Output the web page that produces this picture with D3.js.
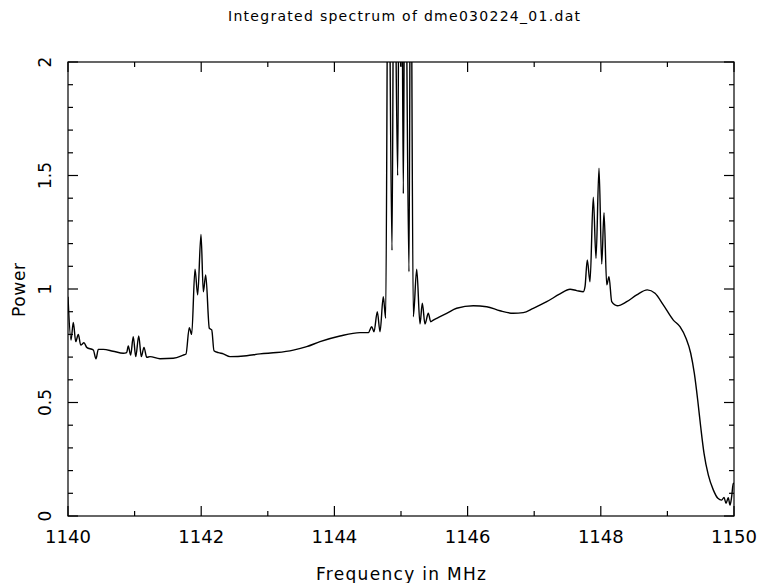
<!DOCTYPE html>
<html>
<head>
<meta charset="utf-8">
<script src="https://cdn.jsdelivr.net/npm/d3@7"></script>
<style>
  body { margin: 0; background: #fff; }
  text { font-family: 'DejaVu Sans', sans-serif; fill: #000; }
</style>
</head>
<body>
<div id="chart"></div>
<script>
// spectrum (MHz, power)
var freqs = [
  1140.000, 1140.045, 1140.080, 1140.116, 1140.155, 1140.191, 1140.240, 1140.281,
  1140.380, 1140.420, 1140.455, 1140.530, 1140.676, 1140.830, 1140.881, 1140.905,
  1140.941, 1140.980, 1141.017, 1141.062, 1141.101, 1141.141, 1141.182, 1141.231,
  1141.381, 1141.581, 1141.731, 1141.772, 1141.821, 1141.857, 1141.907, 1141.947,
  1141.997, 1142.032, 1142.068, 1142.122, 1142.158, 1142.192, 1142.257, 1142.332,
  1142.432, 1142.683, 1142.883, 1143.134, 1143.383, 1143.584, 1143.784, 1144.084,
  1144.384, 1144.509, 1144.560, 1144.595, 1144.644, 1144.685, 1144.734, 1144.770,
  1144.809, 1144.865, 1144.895, 1144.950, 1144.977, 1144.995, 1145.008, 1145.035,
  1145.060, 1145.120, 1145.145, 1145.185, 1145.236, 1145.285, 1145.320, 1145.360,
  1145.410, 1145.446, 1145.485, 1145.586, 1145.686, 1145.836, 1146.086, 1146.287,
  1146.486, 1146.686, 1146.836, 1146.986, 1147.188, 1147.387, 1147.538, 1147.638,
  1147.737, 1147.763, 1147.797, 1147.838, 1147.887, 1147.928, 1147.973, 1148.014,
  1148.048, 1148.089, 1148.123, 1148.164, 1148.248, 1148.389, 1148.539, 1148.698,
  1148.814, 1148.938, 1149.089, 1149.189, 1149.279, 1149.350, 1149.404, 1149.455,
  1149.500, 1149.550, 1149.614, 1149.689, 1149.758, 1149.815, 1149.850, 1149.880,
  1149.914, 1149.940, 1149.965, 1149.989, 1150.000
];
var power = [
  0.966, 0.775, 0.853, 0.768, 0.800, 0.753, 0.763, 0.743,
  0.731, 0.692, 0.734, 0.734, 0.726, 0.717, 0.720, 0.749,
  0.709, 0.790, 0.702, 0.793, 0.702, 0.743, 0.699, 0.702,
  0.693, 0.695, 0.709, 0.714, 0.830, 0.800, 1.087, 0.974,
  1.240, 0.988, 1.062, 0.827, 0.820, 0.728, 0.720, 0.714,
  0.702, 0.706, 0.714, 0.720, 0.731, 0.746, 0.768, 0.793,
  0.808, 0.808, 0.834, 0.812, 0.900, 0.812, 0.966, 0.871,
  2.800, 1.170, 2.800, 1.500, 2.800, 1.980, 2.800, 1.420,
  2.800, 1.076, 2.800, 0.878, 1.087, 0.846, 0.937, 0.846,
  0.893, 0.856, 0.863, 0.878, 0.893, 0.915, 0.926, 0.922,
  0.904, 0.893, 0.896, 0.915, 0.944, 0.978, 0.999, 0.993,
  0.988, 1.010, 1.128, 1.032, 1.404, 1.135, 1.532, 1.110,
  1.336, 1.018, 1.054, 0.944, 0.926, 0.944, 0.974, 0.996,
  0.981, 0.930, 0.863, 0.834, 0.783, 0.717, 0.629, 0.511,
  0.393, 0.276, 0.181, 0.115, 0.078, 0.070, 0.082, 0.056,
  0.081, 0.048, 0.085, 0.144, 0.140
];
var xMajor = [1140, 1142, 1144, 1146, 1148, 1150];
var yMajor = [0, 0.5, 1, 1.5, 2];
var yLabels = ['0', '0.5', '1', '1.5', '2'];

var width = 759, height = 583;
var plotL = 68, plotR = 734, plotT = 62, plotB = 516;

var svg = d3.select('#chart').append('svg')
  .attr('width', width)
  .attr('height', height);

var x = d3.scaleLinear().domain([1140, 1150]).range([plotL, plotR]);
var y = d3.scaleLinear().domain([0, 2]).range([plotB, plotT]);

svg.append('clipPath')
  .attr('id', 'plotclip')
  .append('rect')
  .attr('x', plotL)
  .attr('y', plotT)
  .attr('width', plotR - plotL)
  .attr('height', plotB - plotT);

// frame
svg.append('rect')
  .attr('x', plotL)
  .attr('y', plotT)
  .attr('width', plotR - plotL)
  .attr('height', plotB - plotT)
  .attr('fill', 'none')
  .attr('stroke', '#000')
  .attr('stroke-width', 1.2);

// ticks, all pointing inwards
var xMinor = d3.range(1140, 1151, 1);
var yMinor = d3.range(0, 21).map(function (i) { return i / 10; });
var ticks = svg.append('g').attr('stroke', '#000').attr('stroke-width', 1.2);

xMinor.forEach(function (v) {
  var len = xMajor.indexOf(v) >= 0 ? 10 : 5;
  ticks.append('line').attr('x1', x(v)).attr('x2', x(v)).attr('y1', plotB).attr('y2', plotB - len);
  ticks.append('line').attr('x1', x(v)).attr('x2', x(v)).attr('y1', plotT).attr('y2', plotT + len);
});
yMinor.forEach(function (v, i) {
  var len = i % 5 == 0 ? 10 : 5;
  ticks.append('line').attr('x1', plotL).attr('x2', plotL + len).attr('y1', y(v)).attr('y2', y(v));
  ticks.append('line').attr('x1', plotR).attr('x2', plotR - len).attr('y1', y(v)).attr('y2', y(v));
});

// x tick labels
svg.selectAll('.xlab')
  .data(xMajor)
  .enter()
  .append('text')
  .attr('class', 'xlab')
  .attr('x', function (d) { return x(d); })
  .attr('y', 543)
  .attr('text-anchor', 'middle')
  .attr('font-size', '18px')
  .text(function (d) { return d; });

// y tick labels, rotated like pgplot does
svg.selectAll('.ylab')
  .data(yMajor)
  .enter()
  .append('text')
  .attr('class', 'ylab')
  .attr('transform', function (d) { return 'translate(51,' + y(d) + ') rotate(-90)'; })
  .attr('text-anchor', 'middle')
  .attr('font-size', '17px')
  .text(function (d, i) { return yLabels[i]; });

// the spectrum
var line = d3.line()
  .curve(d3.curveMonotoneX)
  .x(function (d, i) { return x(freqs[i]); })
  .y(function (d) { return y(d); });

svg.append('path')
  .datum(power)
  .attr('clip-path', 'url(#plotclip)')
  .attr('d', line)
  .attr('fill', 'none')
  .attr('stroke', '#000')
  .attr('stroke-width', 1.4)
  .attr('stroke-linejoin', 'round');

// titles
svg.append('text')
  .attr('x', 404)
  .attr('y', 21)
  .attr('text-anchor', 'middle')
  .attr('font-size', '14px')
  .attr('textLength', 352)
  .attr('lengthAdjust', 'spacing')
  .text('Integrated spectrum of dme030224_01.dat');

svg.append('text')
  .attr('x', 401)
  .attr('y', 580)
  .attr('text-anchor', 'middle')
  .attr('font-size', '17px')
  .attr('textLength', 170)
  .attr('lengthAdjust', 'spacing')
  .text('Frequency in MHz');

svg.append('text')
  .attr('transform', 'translate(25,290) rotate(-90)')
  .attr('text-anchor', 'middle')
  .attr('font-size', '17px')
  .attr('textLength', 54)
  .attr('lengthAdjust', 'spacing')
  .text('Power');
</script>
</body>
</html>
